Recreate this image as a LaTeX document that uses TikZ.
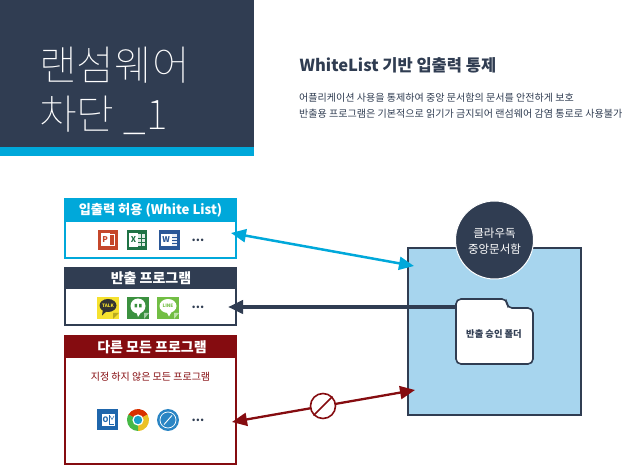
\documentclass[tikz,border=0pt]{standalone}
\usepackage{fontspec}
\setmainfont{Noto Sans CJK KR}
\newfontfamily\lightcjk{Noto Sans CJK KR Thin}
\usetikzlibrary{arrows.meta,calc}
\definecolor{navy}{HTML}{303D52}
\definecolor{sky}{HTML}{00A8DA}
\definecolor{wine}{HTML}{850C10}
\definecolor{pale}{HTML}{A7D5EE}
\definecolor{pptc}{HTML}{C5472B}
\definecolor{xlsc}{HTML}{1F7244}
\definecolor{docc}{HTML}{2B5797}
\definecolor{kakc}{HTML}{F5E12F}
\definecolor{hanc}{HTML}{3B913F}
\definecolor{linc}{HTML}{72BE44}
\definecolor{outc}{HTML}{1F66AC}
\definecolor{safc}{HTML}{2A85C4}
\tikzset{
 box/.style={draw=#1,line width=2.4pt,fill=white},
 hdr/.style={fill=#1,text=white,font=\bfseries\fontsize{14}{14}\selectfont,inner sep=0pt},
 dots/.style={text=navy,font=\bfseries\fontsize{12}{12}\selectfont,inner sep=0pt},
 conn/.style={line width=#1,{Triangle[length=15pt,width=13pt]}-{Triangle[length=15pt,width=13pt]}},
 oneconn/.style={line width=#1,{Triangle[length=15pt,width=13pt]}-},
 bodytext/.style={text=navy,font=\fontsize{10.05}{13}\selectfont,anchor=west,inner sep=0pt},
 titletext/.style={text=white,anchor=west,inner sep=0pt,font=\lightcjk\fontsize{41}{41}\selectfont},
 tile/.style={inner sep=0pt,minimum width=#1,minimum height=#1},
 letter/.style={inner sep=0pt,font=\bfseries\fontsize{#1}{#1}\selectfont}
}
\begin{document}
\begin{tikzpicture}[x=1pt,y=-1pt]
\useasboundingbox (0,0) rectangle (630,470);
% header
\fill[navy] (0,0) rectangle (254,148);
\fill[sky] (0,147) rectangle (254,156);
\node[titletext] (t1) at (39,65) {랜섬웨어};
\node[titletext] (t2) at (39,115) {차단 \_1};
\node[text=navy,anchor=west,inner sep=0pt,font=\bfseries\fontsize{16.5}{17}\selectfont] (h) at (299.5,65) {WhiteList 기반 입출력 통제};
\node[bodytext] (b1) at (299,98) {어플리케이션 사용을 통제하여 중앙 문서함의 문서를 안전하게 보호};
\node[bodytext] (b2) at (299,114) {반출용 프로그램은 기본적으로 읽기가 금지되어 랜섬웨어 감염 통로로 사용불가};
% boxes
\draw[box=sky] (65,199) rectangle (236,258);
\fill[sky] (64,198) rectangle (237,222);
\node[hdr=sky,font=\bfseries\fontsize{13.2}{14}\selectfont] (hw) at (150.5,210) {입출력 허용 (White List)};
\draw[box=navy] (65,268) rectangle (236,325);
\fill[navy] (64,267) rectangle (237,289);
\node[hdr=navy] (hp) at (151,278) {반출 프로그램};
\draw[box=wine] (65,336) rectangle (236,464);
\fill[wine] (64,335) rectangle (237,358);
\node[hdr=wine] (hr) at (152,347) {다른 모든 프로그램};
\node[text=wine,inner sep=0pt,font=\fontsize{10}{10}\selectfont] (sub) at (150.5,377) {지정 하지 않은 모든 프로그램};
% powerpoint
\node[tile=20.5pt,fill=pptc] (ppt) at (107.8,240) {};
\draw[white,line width=.9pt] (108,234.5) rectangle (114.5,245);
\node[tile=10pt,fill=white,minimum height=13pt,minimum width=9pt,text=pptc,letter=8] (pptl) at (105,240) {P};
% excel
\node[tile=20.5pt,fill=xlsc] (xls) at (137,240) {};
\fill[white!85!xlsc] (137,234) rectangle (145,246);
\draw[xlsc,line width=.6pt] (141,234) -- (141,246) (137,238) -- (145,238) (137,242) -- (145,242);
\node[tile=10pt,fill=white,minimum height=14pt,minimum width=9pt,text=xlsc,letter=8] (xlsl) at (133.5,240) {X};
% word
\node[tile=20.5pt,fill=docc] (doc) at (169.5,240) {};
\fill[white!90!docc] (169,234) rectangle (177,246);
\draw[docc,line width=.7pt] (171,237) -- (177,237) (171,240) -- (177,240) (171,243) -- (177,243);
\node[tile=10pt,fill=white,minimum height=12pt,minimum width=11pt,text=docc,letter=8] (docl) at (166,240) {W};
\node[dots] (d1) at (198,240) {...};
% kakao
\node[tile=21.5pt,fill=kakc] (kak) at (108,308) {};
\fill[black!25!kakc] (119,313) -- (113,319) -- (113,313) -- cycle;
\fill[black!80] (108,305.5) ellipse (8.5 and 6.5);
\fill[black!80] (103,309) -- (102,315.5) -- (108,310) -- cycle;
\node[text=kakc,letter=4.6] (kakl) at (108,305.5) {TALK};
% hangouts
\node[tile=21.5pt,fill=hanc] (hang) at (138,308) {};
\fill[white!55!hanc] (149,313) -- (144,319) -- (144,313) -- cycle;
\fill[white] (138,306) circle (7.5);
\fill[white] (136,311) -- (138,317) -- (142,311) -- cycle;
\fill[hanc] (134.5,304) rectangle (137,307.5) (139,304) rectangle (141.5,307.5);
% line
\node[tile=21.5pt,fill=linc] (lin) at (168,308) {};
\fill[white!55!linc] (179,313) -- (174,319) -- (174,313) -- cycle;
\fill[white] (168,306) ellipse (8.5 and 7);
\fill[white] (166,311) -- (169,316.5) -- (172,311) -- cycle;
\node[text=linc,letter=4.6] (linl) at (168,306) {LINE};
\node[dots] (d2) at (198,307) {...};
% outlook
\node[tile=21pt,fill=outc] (out) at (107.5,420) {};
\fill[white] (102,414) rectangle (115,426);
\draw[outc,line width=.5pt] (109.5,415.5) -- (109.5,424.5) -- (114,424.5);
\draw[outc,line width=.5pt] (110,416) -- (112,419.5) -- (114,416);
\node[fill=white,inner sep=0pt,text=outc,letter=7.5] (outl) at (105.5,420) {O};
% chrome
\node[circle,tile=22pt] (chr) at (138,420) {};
\fill[red!55!orange!85!black] (chr.center) -- ++(210:11) arc (210:330:11) -- cycle;
\fill[yellow!60!orange!85!gray] (chr.center) -- ++(330:11) arc (330:450:11) -- cycle;
\fill[green!45!gray] (chr.center) -- ++(90:11) arc (90:210:11) -- cycle;
\fill[white] (chr.center) circle (5.6);
\fill[sky!80!gray] (chr.center) circle (4.2);
% safari
\node[circle,fill=safc,inner sep=0pt,minimum size=22pt] (saf) at (168,420) {};
\draw[white,line width=.7pt] (saf.center) circle (8);
\draw[white,line width=.9pt] (164,424.5) -- (172,415.5);
\node[dots] (d3) at (198,420) {...};
% vault
\node[draw=navy,line width=2pt,fill=pale,inner sep=0pt,minimum width=173pt,minimum height=167pt] (vault) at (494.5,331.5) {};
% connectors
\coordinate (wa) at (231,233);
\coordinate (va) at (414,266);
\coordinate (pa) at (228,307);
\coordinate (pb) at (470,307);
\coordinate (ra) at (232,422);
\coordinate (vr) at (415,390);
\draw[sky,conn=2.5pt] (wa) -- (va);
\draw[navy,oneconn=4pt] (pa) -- (pb);
\draw[wine,conn=2.3pt] (ra) -- (vr);
\node[circle,draw=wine,line width=1.6pt,fill=white,inner sep=0pt,minimum size=25pt] (no) at (323,406) {};
\draw[wine,line width=1.6pt] (no.225) -- (no.45);
% circle
\node[circle,draw=white,line width=1pt,fill=navy,inner sep=0pt,minimum size=78pt] (cloud) at (494.5,240) {};
\node[text=white,align=center,inner sep=0pt,font=\fontsize{11.5}{16.5}\selectfont] (cloudt) at (494.5,241) {클라우독\\중앙문서함};
% folder
\draw[navy,line width=1.6pt,fill=white,rounded corners=5pt] (456,364) -- (456,299) -- (507,299) -- (507,308) -- (533,308) -- (533,364) -- cycle;
\node[text=navy,inner sep=0pt,font=\bfseries\fontsize{9.3}{10}\selectfont] (ft) at (494,334) {반출 승인 폴더};
\end{tikzpicture}
\end{document}
